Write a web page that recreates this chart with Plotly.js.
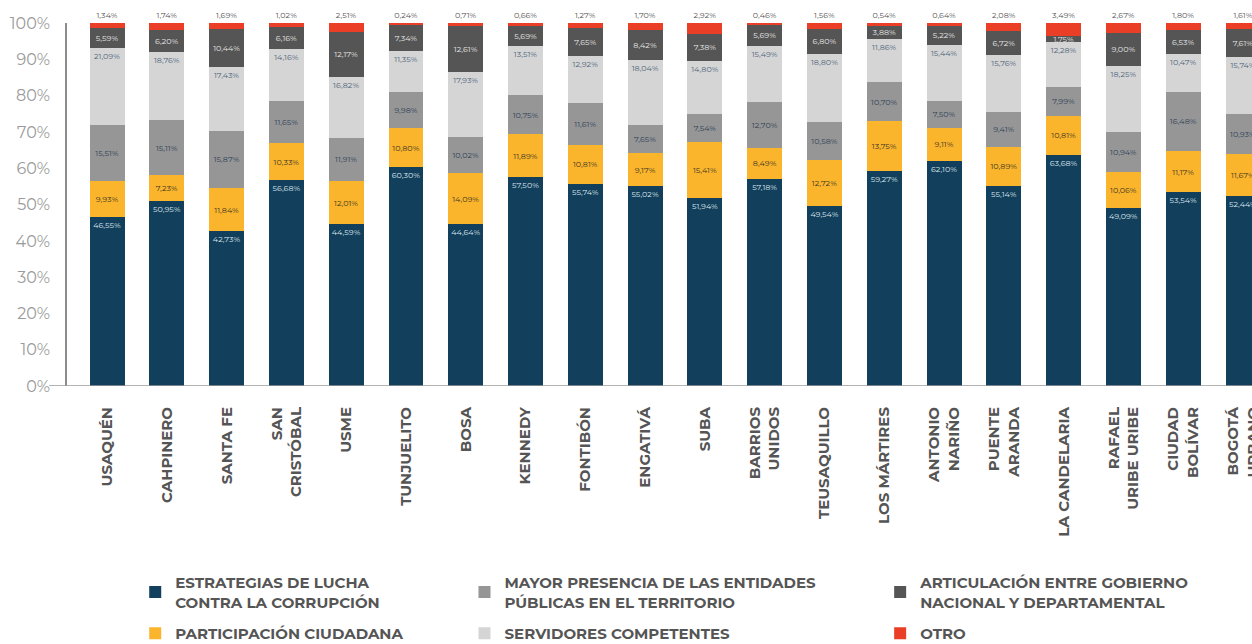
<!DOCTYPE html>
<html>
<head>
<meta charset="utf-8">
<script src="https://cdn.plot.ly/plotly-3.0.1.min.js"></script>
<style>
  html, body { margin: 0; padding: 0; background: #fff; }
  #chart { width: 1252px; height: 644px; }
</style>
</head>
<body>
<div id="chart"></div>
<script>
// Localidades (bar order, left to right)
const districts = [
  "USAQUÉN", "CAHPINERO", "SANTA FE", "SAN<br>CRISTÓBAL", "USME", "TUNJUELITO",
  "BOSA", "KENNEDY", "FONTIBÓN", "ENGATIVÁ", "SUBA", "BARRIOS<br>UNIDOS",
  "TEUSAQUILLO", "LOS MÁRTIRES", "ANTONIO<br>NARIÑO", "PUENTE<br>ARANDA",
  "LA CANDELARIA", "RAFAEL<br>URIBE URIBE", "CIUDAD<br>BOLÍVAR", "BOGOTÁ<br>URBANO"
];

// series, bottom to top of each stack (%)
const estrategias   = [46.55, 50.95, 42.73, 56.68, 44.59, 60.30, 44.64, 57.50, 55.74, 55.02, 51.94, 57.18, 49.54, 59.27, 62.10, 55.14, 63.68, 49.09, 53.54, 52.44];
const participacion = [9.93, 7.23, 11.84, 10.33, 12.01, 10.80, 14.09, 11.89, 10.81, 9.17, 15.41, 8.49, 12.72, 13.75, 9.11, 10.89, 10.81, 10.06, 11.17, 11.67];
const mayorPresencia = [15.51, 15.11, 15.87, 11.65, 11.91, 9.98, 10.02, 10.75, 11.61, 7.65, 7.54, 12.70, 10.58, 10.70, 7.50, 9.41, 7.99, 10.94, 16.48, 10.93];
const servidores    = [21.09, 18.76, 17.43, 14.16, 16.82, 11.35, 17.93, 13.51, 12.92, 18.04, 14.80, 15.49, 18.80, 11.86, 15.44, 15.76, 12.28, 18.25, 10.47, 15.74];
const articulacion  = [5.59, 6.20, 10.44, 6.16, 12.17, 7.34, 12.61, 5.69, 7.65, 8.42, 7.38, 5.69, 6.80, 3.88, 5.22, 6.72, 1.75, 9.00, 6.53, 7.61];
const otro          = [1.34, 1.74, 1.69, 1.02, 2.51, 0.24, 0.71, 0.66, 1.27, 1.70, 2.92, 0.46, 1.56, 0.54, 0.64, 2.08, 3.49, 2.67, 1.80, 1.61];

// y axis ticks
const yTicks = [0, 10, 20, 30, 40, 50, 60, 70, 80, 90, 100];
const yTickText = yTicks.map(v => v + "%");

const FONT = "Montserrat, 'Open Sans', sans-serif";

function seg(name, y, color, txtColor, anchor, legend){
  return {
    type: "bar",
    name: name,
    x: districts,
    y: y,
    legend: legend,
    legendgroup: name,
    marker: { color: color },
    texttemplate: "%{y:.2f}%",
    textposition: "inside",
    insidetextanchor: anchor,
    textangle: 0,
    constraintext: "none",
    insidetextfont: { family: FONT, size: 8, color: txtColor },
    hovertemplate: "%{x}: %{y:.2f}%<extra>" + name + "</extra>"
  };
}

const traces = [
  seg("ESTRATEGIAS DE LUCHA<br>CONTRA LA CORRUPCIÓN", estrategias, "#123f5b", "#dbe4ec", "end", "legend"),
  seg("PARTICIPACIÓN CIUDADANA", participacion, "#fbb52c", "#3b3526", "middle", "legend"),
  seg("MAYOR PRESENCIA DE LAS ENTIDADES<br>PÚBLICAS EN EL TERRITORIO", mayorPresencia, "#969696", "#2f4356", "middle", "legend2"),
  seg("SERVIDORES COMPETENTES", servidores, "#d5d5d5", "#4f667c", "end", "legend2"),
  seg("ARTICULACIÓN ENTRE GOBIERNO<br>NACIONAL Y DEPARTAMENTAL", articulacion, "#555555", "#e6e6e6", "middle", "legend3"),
  {
    type: "bar",
    name: "OTRO",
    x: districts,
    y: otro,
    legend: "legend3",
    legendgroup: "OTRO",
    marker: { color: "#ea3f26" },
    texttemplate: "%{y:.2f}%",
    textposition: "outside",
    textangle: 0,
    constraintext: "none",
    cliponaxis: false,
    outsidetextfont: { family: FONT, size: 8, color: "#555" },
    hovertemplate: "%{x}: %{y:.2f}%<extra>OTRO</extra>"
  }
];

// legends laid out as three columns of two entries
const legendBase = {
  orientation: "v",
  xref: "container", yref: "container",
  yanchor: "top", xanchor: "left",
  y: 0.121,
  traceorder: "grouped",
  tracegroupgap: 9,
  bgcolor: "rgba(0,0,0,0)",
  font: { family: FONT, size: 15, color: "#555", weight: "bold" },
  itemclick: false, itemdoubleclick: false
};

const layout = {
  width: 1252,
  height: 644,
  margin: { l: 67, r: 0, t: 23, b: 258, autoexpand: false },
  barmode: "stack",
  bargap: 0.415,
  separators: ",.",
  paper_bgcolor: "#fff",
  plot_bgcolor: "#fff",
  font: { family: FONT, color: "#555" },
  showlegend: true,
  legend:  Object.assign({}, legendBase, { x: 0.108 }),
  legend2: Object.assign({}, legendBase, { x: 0.371 }),
  legend3: Object.assign({}, legendBase, { x: 0.703 }),
  xaxis: {
    type: "category",
    range: [-0.67, 19.15],
    automargin: false,
    tickangle: -90,
    ticks: "outside",
    ticklen: 14,
    tickcolor: "rgba(0,0,0,0)",
    tickfont: { family: FONT, size: 15, color: "#555", weight: "bold" },
    showline: false,
    showgrid: false,
    zeroline: false,
    fixedrange: true
  },
  yaxis: {
    range: [0, 100.1],
    automargin: false,
    tickmode: "array",
    tickvals: yTicks,
    ticktext: yTickText,
    ticks: "outside",
    ticklen: 12,
    tickcolor: "rgba(0,0,0,0)",
    tickfont: { family: FONT, size: 16, color: "#9a9a9a" },
    showline: true,
    linecolor: "#8c8c8c",
    linewidth: 1.5,
    showgrid: false,
    zeroline: false,
    fixedrange: true
  },
  shapes: [{
    type: "line", xref: "paper", yref: "y",
    x0: -0.015, x1: 1, y0: 0, y1: 0,
    line: { color: "#9a9a9a", width: 1.5 }
  }]
};

Plotly.newPlot("chart", traces, layout, { displayModeBar: false, responsive: false });
</script>
</body>
</html>
